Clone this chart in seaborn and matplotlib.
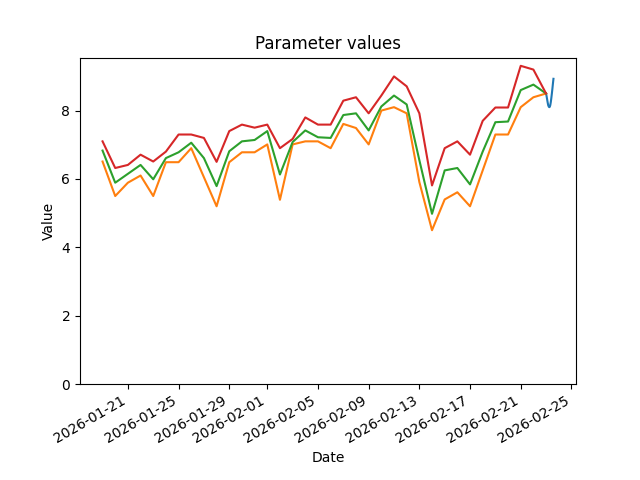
import numpy as np
import pandas as pd
import matplotlib
matplotlib.use("Agg")
import matplotlib.pyplot as plt
import seaborn as sns

# daily statistics, 2026-01-19 .. 2026-02-23
day_start = "2026-01-19"
daily_max = [7.10, 6.32, 6.41, 6.71, 6.51, 6.80, 7.30, 7.30, 7.20, 6.50,
             7.40, 7.59, 7.50, 7.59, 6.90, 7.17, 7.80, 7.59, 7.59, 8.29,
             8.39, 7.92, 8.44, 9.00, 8.71, 7.92, 5.81, 6.90, 7.10, 6.71,
             7.70, 8.09, 8.09, 9.31, 9.20, 8.50]
daily_mean = [6.83, 5.89, 6.15, 6.41, 5.99, 6.61, 6.78, 7.06, 6.61, 5.79,
              6.81, 7.10, 7.14, 7.40, 6.13, 7.08, 7.42, 7.22, 7.20, 7.87,
              7.92, 7.42, 8.12, 8.44, 8.18, 6.55, 4.98, 6.25, 6.32, 5.84,
              6.80, 7.66, 7.68, 8.60, 8.76, 8.50]
daily_min = [6.51, 5.50, 5.89, 6.10, 5.50, 6.49, 6.49, 6.90, 6.05, 5.20,
             6.49, 6.78, 6.78, 7.01, 5.39, 7.01, 7.10, 7.10, 6.90, 7.61,
             7.49, 7.01, 8.00, 8.10, 7.92, 5.91, 4.50, 5.40, 5.61, 5.20,
             6.25, 7.30, 7.30, 8.10, 8.39, 8.50]

# hourly values on the last day
hour_start = "2026-02-23 00:00"
hourly = [8.50, 8.42, 8.33, 8.24, 8.16, 8.12, 8.10, 8.11, 8.16, 8.25,
          8.37, 8.50, 8.64, 8.79, 8.93]

days = pd.date_range(day_start, periods=len(daily_max), freq="D")
hours = pd.date_range(hour_start, periods=len(hourly), freq="h")

daily = pd.DataFrame({"Date": days, "min": daily_min,
                      "mean": daily_mean, "max": daily_max})
recent = pd.DataFrame({"Date": hours, "Value": hourly})

fig, ax = plt.subplots(figsize=(6.4, 4.8), dpi=100)
sns.lineplot(data=recent, x="Date", y="Value", color="C0", ax=ax)
sns.lineplot(data=daily, x="Date", y="min", color="C1", ax=ax)
sns.lineplot(data=daily, x="Date", y="mean", color="C2", ax=ax)
sns.lineplot(data=daily, x="Date", y="max", color="C3", ax=ax)

ax.set_ylim(bottom=0)
ax.set_title("Parameter values")
ax.set_xlabel("Date")
ax.set_ylabel("Value")
fig.autofmt_xdate()

fig.savefig("out.png")
